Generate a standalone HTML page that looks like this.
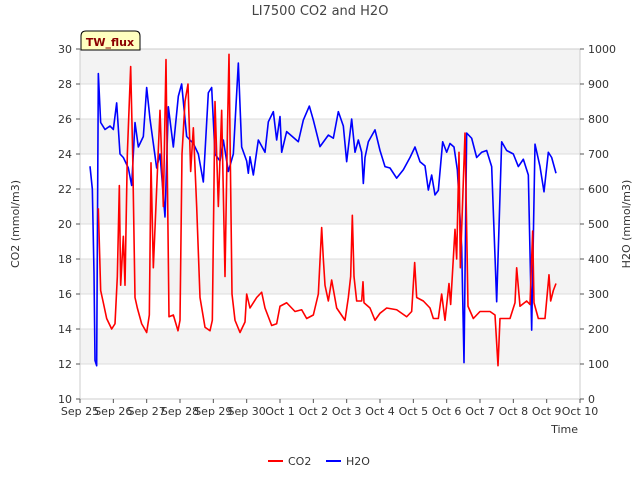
<!DOCTYPE html>
<html><head><meta charset="utf-8"><style>
body{margin:0;background:#fff;font-family:"Liberation Sans","DejaVu Sans",sans-serif}
svg text{font-family:"DejaVu Sans","Liberation Sans",sans-serif}
</style></head><body>
<svg id="chart" width="640" height="480" xmlns="http://www.w3.org/2000/svg">
<rect width="640" height="480" fill="#fff"/>
<g id="bands"></g>
<g id="grid"></g>
<rect x="80" y="49" width="500" height="350" fill="none" stroke="#ccc"/>
<g id="axes"></g>
<g id="series"></g>
<text x="320" y="15" text-anchor="middle" font-size="13" fill="#444">LI7500 CO2 and H2O</text>
<text transform="translate(19,224) rotate(-90)" text-anchor="middle" font-size="11" fill="#333">CO2 (mmol/m3)</text>
<text transform="translate(630,224) rotate(-90)" text-anchor="middle" font-size="11" fill="#333">H2O (mmol/m3)</text>
<text x="578" y="433" text-anchor="end" font-size="11" fill="#333">Time</text>
<g>
<path d="M81,50 L81,36 Q81,31 86,31 L135,31 Q140,31 140,36 L140,50 Z" fill="#ffffc0" stroke="#000"/>
<text x="110" y="46" text-anchor="middle" font-size="11" font-weight="bold" fill="#8b0000">TW_flux</text>
</g>
<g>
<line x1="268" y1="461" x2="283" y2="461" stroke="#f00" stroke-width="2"/>
<text x="288" y="465" font-size="11" fill="#333">CO2</text>
<line x1="326" y1="461" x2="341" y2="461" stroke="#00f" stroke-width="2"/>
<text x="346" y="465" font-size="11" fill="#333">H2O</text>
</g>
</svg>
<script>
const xTickLabels=["Sep 25","Sep 26","Sep 27","Sep 28","Sep 29","Sep 30","Oct 1","Oct 2","Oct 3","Oct 4","Oct 5","Oct 6","Oct 7","Oct 8","Oct 9","Oct 10"];
const leftTicks=[10,12,14,16,18,20,22,24,26,28,30];
const rightTicks=[0,100,200,300,400,500,600,700,800,900,1000];
const co2Days=[0.55,0.62,0.7,0.8,0.95,1.05,1.12,1.18,1.22,1.3,1.35,1.42,1.52,1.58,1.65,1.72,1.85,2.0,2.08,2.13,2.2,2.3,2.4,2.5,2.58,2.67,2.8,2.94,3.0,3.06,3.15,3.24,3.32,3.4,3.5,3.6,3.75,3.9,3.97,4.05,4.15,4.25,4.35,4.42,4.47,4.56,4.65,4.8,4.95,5.0,5.1,5.3,5.45,5.55,5.75,5.9,6.0,6.2,6.45,6.65,6.8,7.0,7.15,7.25,7.3,7.35,7.45,7.55,7.7,7.95,8.05,8.12,8.17,8.22,8.3,8.45,8.49,8.52,8.7,8.85,9.0,9.2,9.5,9.8,9.95,10.04,10.1,10.3,10.5,10.6,10.75,10.85,10.95,11.07,11.12,11.25,11.3,11.37,11.41,11.55,11.64,11.8,12.0,12.3,12.45,12.54,12.6,12.9,13.05,13.1,13.2,13.4,13.5,13.58,13.62,13.75,13.95,14.07,14.12,14.2,14.28];
const co2Values=[20.9,16.2,15.5,14.6,14.0,14.3,17,22.2,16.5,19.3,16.5,24,29,24,15.8,15.2,14.3,13.8,14.8,23.5,17.5,22,26.5,21,29.4,14.7,14.8,13.9,14.5,24,27,28,23,25.5,21,15.8,14.1,13.9,14.5,27,21,26.5,17,25,29.7,16,14.5,13.8,14.4,16,15.2,15.8,16.1,15.2,14.2,14.3,15.3,15.5,15.0,15.1,14.6,14.8,16,19.8,18,16.5,15.6,16.8,15.2,14.5,15.8,17,20.5,17,15.6,15.6,16.7,15.5,15.2,14.5,14.9,15.2,15.1,14.7,15.0,17.8,15.8,15.6,15.2,14.6,14.6,16.0,14.5,16.6,15.4,19.7,18,24.1,17.5,25.2,15.3,14.6,15,15,14.8,11.9,14.6,14.6,15.5,17.5,15.3,15.6,15.4,19.6,15.5,14.6,14.6,17.1,15.6,16.2,16.6];
const h2oDays=[0.3,0.37,0.42,0.45,0.5,0.55,0.62,0.75,0.9,1.0,1.1,1.2,1.3,1.45,1.55,1.65,1.75,1.9,2.0,2.1,2.2,2.3,2.4,2.55,2.65,2.8,2.95,3.05,3.2,3.4,3.55,3.7,3.85,3.95,4.05,4.2,4.3,4.45,4.6,4.75,4.85,5.0,5.05,5.1,5.2,5.35,5.55,5.65,5.8,5.9,6.0,6.05,6.2,6.55,6.7,6.88,7.0,7.2,7.45,7.6,7.75,7.9,8.0,8.15,8.25,8.35,8.45,8.5,8.55,8.65,8.85,9.0,9.15,9.3,9.5,9.7,9.9,10.05,10.2,10.35,10.45,10.55,10.65,10.75,10.88,11.0,11.1,11.22,11.32,11.45,11.52,11.6,11.75,11.9,12.05,12.2,12.35,12.5,12.65,12.8,13.0,13.15,13.3,13.45,13.55,13.65,13.8,13.92,14.05,14.15,14.28];
const h2oValues=[665,600,360,110,95,930,790,770,780,770,846,700,690,660,610,790,720,750,890,800,730,660,700,520,835,720,865,900,750,730,700,620,875,890,700,680,740,650,700,960,720,680,645,692,640,740,705,792,821,740,807,705,764,735,797,837,797,721,754,745,821,780,678,800,705,740,705,616,690,735,769,710,664,660,631,655,690,720,678,666,597,640,583,596,735,705,730,720,655,435,104,760,745,690,705,710,664,278,735,710,700,664,685,640,197,728,664,592,705,690,645];
const NS="http://www.w3.org/2000/svg";
const X0=80,X1=580,Y0=399,Y1=49;
const xs=d=>X0+d*(X1-X0)/15;
const yL=v=>Y0-(v-10)*(Y0-Y1)/20;
const yR=v=>Y0-v*(Y0-Y1)/1000;
function mk(tag,attrs,parent){const e=document.createElementNS(NS,tag);for(const k in attrs)e.setAttribute(k,attrs[k]);parent.appendChild(e);return e;}
const bands=document.getElementById('bands'),grid=document.getElementById('grid'),axes=document.getElementById('axes'),series=document.getElementById('series');
for(let i=0;i<leftTicks.length-1;i++){
  if((leftTicks.length-2-i)%2===0){
    const b=mk('rect',{x:X0,y:yL(leftTicks[i+1]),width:X1-X0,height:yL(leftTicks[i])-yL(leftTicks[i+1]),fill:'#f3f3f3'},bands);
    
    
  }
}
leftTicks.forEach(v=>{
  const g=mk('line',{x1:X0,x2:X1,y1:yL(v),y2:yL(v),stroke:'#ddd'},grid);
  
  
  mk('line',{x1:X0-4,x2:X0,y1:yL(v),y2:yL(v),stroke:'#555'},axes);
  const t=mk('text',{x:X0-8,y:yL(v)+4,'text-anchor':'end','font-size':'11',fill:'#333'},axes);
  t.textContent=v;
  
  
});
rightTicks.forEach(v=>{
  mk('line',{x1:X1,x2:X1+4,y1:yR(v),y2:yR(v),stroke:'#555'},axes);
  const t=mk('text',{x:X1+8,y:yR(v)+4,'font-size':'11',fill:'#333'},axes);
  t.textContent=v;
  
  
});
xTickLabels.forEach((s,i)=>{
  mk('line',{x1:xs(i),x2:xs(i),y1:Y0,y2:Y0+4,stroke:'#555'},axes);
  const t=mk('text',{x:xs(i),y:Y0+16,'text-anchor':'middle','font-size':'11',fill:'#333'},axes);
  t.textContent=s;
  
  
});
const co2=mk('polyline',{points:co2Days.map((d,i)=>xs(d)+','+yL(co2Values[i])).join(' '),fill:'none',stroke:'#f00','stroke-width':'1.6','stroke-linejoin':'round'},series);


const h2o=mk('polyline',{points:h2oDays.map((d,i)=>xs(d)+','+yR(h2oValues[i])).join(' '),fill:'none',stroke:'#00f','stroke-width':'1.6','stroke-linejoin':'round'},series);


series.appendChild(co2);
</script>
</body></html>
